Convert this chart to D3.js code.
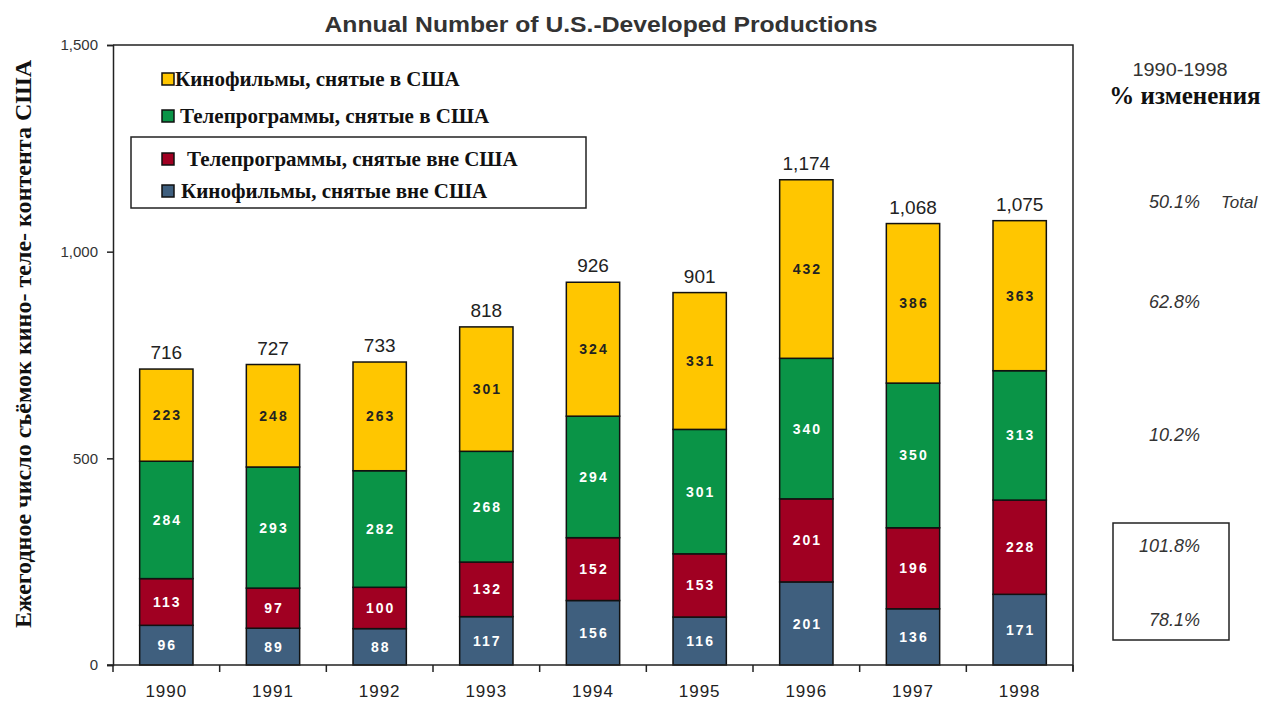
<!DOCTYPE html>
<html>
<head>
<meta charset="utf-8">
<script src="https://cdn.jsdelivr.net/npm/d3@7/dist/d3.min.js"></script>
<style>
  body { margin: 0; background: #fff; }
  svg { display: block; }
  .sans { font-family: "Liberation Sans", Arial, sans-serif; }
  .serif { font-family: "Liberation Serif", "Times New Roman", serif; font-weight: bold; }
</style>
</head>
<body>
<div id="chart"></div>
<script>
// data
const years = ['1990', '1991', '1992', '1993', '1994', '1995', '1996', '1997', '1998'];
const filmsAbroad = [96, 89, 88, 117, 156, 116, 201, 136, 171];
const tvAbroad = [113, 97, 100, 132, 152, 153, 201, 196, 228];
const tvUS = [284, 293, 282, 268, 294, 301, 340, 350, 313];
const filmsUS = [223, 248, 263, 301, 324, 331, 432, 386, 363];
const seriesNames = [
    'Кинофильмы, снятые вне США',
    'Телепрограммы, снятые вне США',
    'Телепрограммы, снятые в США',
    'Кинофильмы, снятые в США',
];
const yTicks = [0, 500, 1000, 1500];
// % change labels and the value level they sit at
const changeLabels = ['50.1%', '62.8%', '10.2%', '101.8%', '78.1%'];
const changeLevels = [1120, 880, 556, 288, 109];

const width = 1268;
const height = 704;
const margin = { top: 45, right: 195, bottom: 39, left: 113 };
const innerW = width - margin.left - margin.right;
const innerH = height - margin.top - margin.bottom;

const colors = ['#3f5f7e', '#a00022', '#0a9447', '#ffc600'];
const textColors = ['#fff', '#fff', '#fff', '#222'];

const svg = d3.select('#chart').append('svg')
    .attr('width', width)
    .attr('height', height);

const g = svg.append('g')
    .attr('transform', `translate(${margin.left},${margin.top})`);

const x = d3.scaleBand().domain(years).range([0, innerW]).paddingInner(0.5).paddingOuter(0.25);
const y = d3.scaleLinear().domain([0, 1500]).range([innerH, 0]);

const table = years.map((yr, i) => ({
    year: yr, s0: filmsAbroad[i], s1: tvAbroad[i], s2: tvUS[i], s3: filmsUS[i],
}));
const stack = d3.stack().keys(['s0', 's1', 's2', 's3'])(table);

// frame (top and right)
g.append('path')
    .attr('d', `M0,0H${innerW}V${innerH + 6}`)
    .attr('fill', 'none')
    .attr('stroke', '#222')
    .attr('stroke-width', 1.5);

// bars
stack.forEach((s, k) => {
    g.selectAll(`.bar${k}`)
        .data(s)
        .enter().append('rect')
        .attr('x', d => x(d.data.year))
        .attr('y', d => y(d[1]))
        .attr('width', x.bandwidth())
        .attr('height', d => y(d[0]) - y(d[1]))
        .attr('fill', colors[k])
        .attr('stroke', '#111')
        .attr('stroke-width', 1.5);
});

stack.forEach((s, k) => {
    g.selectAll(`.seg${k}`)
        .data(s)
        .enter().append('text')
        .attr('class', 'sans')
        .attr('x', d => x(d.data.year) + x.bandwidth() / 2 + 1)
        .attr('y', d => y((d[0] + d[1]) / 2))
        .attr('dy', '0.36em')
        .attr('text-anchor', 'middle')
        .attr('font-size', 14)
        .attr('font-weight', 'bold')
        .attr('letter-spacing', 2)
        .attr('fill', textColors[k])
        .text(d => d[1] - d[0]);
});

// totals
g.selectAll('.total')
    .data(stack[3])
    .enter().append('text')
    .attr('class', 'sans')
    .attr('x', d => x(d.data.year) + x.bandwidth() / 2)
    .attr('y', d => y(d[1]) - 10)
    .attr('text-anchor', 'middle')
    .attr('font-size', 19)
    .attr('fill', '#222')
    .text(d => d3.format(',')(d[1]));

// axes
const yAxis = g.append('g')
    .call(d3.axisLeft(y).tickValues(yTicks).tickSize(6).tickPadding(9).tickFormat(d3.format(',')));
yAxis.select('.domain').attr('stroke', '#222').attr('stroke-width', 1.5);
yAxis.selectAll('.tick line').attr('stroke', '#222').attr('stroke-width', 1.5);
yAxis.selectAll('text').attr('class', 'sans').attr('font-size', 15).attr('fill', '#333');

const xb = d3.scaleLinear().domain([0, years.length]).range([0, innerW]);
const xAxis = g.append('g')
    .attr('transform', `translate(0,${innerH})`);
xAxis.append('line')
    .attr('x1', -6).attr('x2', innerW)
    .attr('stroke', '#222').attr('stroke-width', 1.5);
xAxis.selectAll('.xt')
    .data(d3.range(years.length + 1))
    .enter().append('line')
    .attr('x1', d => xb(d)).attr('x2', d => xb(d))
    .attr('y1', 0).attr('y2', 7)
    .attr('stroke', '#222').attr('stroke-width', 1.5);
xAxis.selectAll('.xl')
    .data(years)
    .enter().append('text')
    .attr('class', 'sans')
    .attr('x', d => x(d) + x.bandwidth() / 2)
    .attr('y', 32)
    .attr('text-anchor', 'middle')
    .attr('font-size', 17)
    .attr('letter-spacing', 1)
    .attr('fill', '#222')
    .text(d => d);

// title
svg.append('text')
    .attr('class', 'sans')
    .attr('x', 601)
    .attr('y', 32)
    .attr('text-anchor', 'middle')
    .attr('font-size', 22)
    .attr('font-weight', 'bold')
    .attr('textLength', 553)
    .attr('lengthAdjust', 'spacingAndGlyphs')
    .attr('fill', '#333')
    .text('Annual Number of U.S.-Developed Productions');

// y label
svg.append('text')
    .attr('class', 'serif')
    .attr('transform', 'translate(31,344) rotate(-90)')
    .attr('text-anchor', 'middle')
    .attr('font-size', 23)
    .attr('textLength', 568)
    .attr('lengthAdjust', 'spacingAndGlyphs')
    .attr('fill', '#111')
    .text('Ежегодное число съёмок кино- теле- контента США');

// legend
const legendItems = [
    { k: 3, y: 79, tx: 175 },
    { k: 2, y: 116, tx: 180 },
    { k: 1, y: 159, tx: 187 },
    { k: 0, y: 191, tx: 181 },
];
svg.append('rect')
    .attr('x', 131).attr('y', 137)
    .attr('width', 455).attr('height', 71)
    .attr('fill', 'none').attr('stroke', '#222').attr('stroke-width', 1.5);
const lg = svg.selectAll('.leg')
    .data(legendItems)
    .enter().append('g');
lg.append('rect')
    .attr('x', 162).attr('y', d => d.y - 6)
    .attr('width', 12).attr('height', 12)
    .attr('fill', d => colors[d.k])
    .attr('stroke', '#111').attr('stroke-width', 1.5);
lg.append('text')
    .attr('class', 'serif')
    .attr('x', d => d.tx).attr('y', d => d.y)
    .attr('dy', '0.35em')
    .attr('font-size', 21)
    .attr('fill', '#111')
    .text(d => seriesNames[d.k]);

// right side % change
svg.append('text')
    .attr('class', 'sans')
    .attr('x', 1180).attr('y', 76)
    .attr('text-anchor', 'middle')
    .attr('font-size', 18)
    .attr('textLength', 95)
    .attr('lengthAdjust', 'spacingAndGlyphs')
    .attr('fill', '#333')
    .text('1990-1998');
svg.append('text')
    .attr('class', 'serif')
    .attr('x', 1185).attr('y', 104)
    .attr('text-anchor', 'middle')
    .attr('font-size', 25)
    .attr('fill', '#111')
    .text('% изменения');

svg.selectAll('.chg')
    .data(changeLabels)
    .enter().append('text')
    .attr('class', 'sans')
    .attr('x', 1200)
    .attr('y', (d, i) => margin.top + y(changeLevels[i]))
    .attr('dy', '0.35em')
    .attr('text-anchor', 'end')
    .attr('font-size', 18)
    .attr('font-style', 'italic')
    .attr('fill', '#333')
    .text(d => d);
svg.append('text')
    .attr('class', 'sans')
    .attr('x', 1221)
    .attr('y', margin.top + y(changeLevels[0]))
    .attr('dy', '0.35em')
    .attr('font-size', 17)
    .attr('font-style', 'italic')
    .attr('fill', '#333')
    .text('Total');
svg.append('rect')
    .attr('x', 1113).attr('y', 523)
    .attr('width', 116).attr('height', 117)
    .attr('fill', 'none').attr('stroke', '#222').attr('stroke-width', 1.5);
</script>
</body>
</html>
